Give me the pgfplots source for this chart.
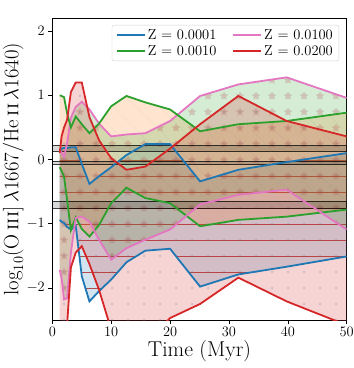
\documentclass[border=0pt]{standalone}
\usepackage{pgfplots}
\pgfplotsset{compat=1.18}
\usepgfplotslibrary{fillbetween}
\usetikzlibrary{patterns.meta}
\usepackage{pgfplotstable}

\definecolor{tabblue}{HTML}{1F77B4}
\definecolor{taborange}{HTML}{FF7F0E}
\definecolor{tabgreen}{HTML}{2CA02C}
\definecolor{tabred}{HTML}{D62728}
\definecolor{tabpink}{HTML}{E377C2}

% Z = 0.0001
\pgfplotstableread{
t     up     lo
1.26  0.12  -0.94
1.58  0.17  -0.97
2.00  0.18  -0.99
2.51  0.18  -1.05
3.16  0.19  -1.09
3.98  0.19  -1.03
5.01 -0.07  -1.82
6.31 -0.38  -2.21
7.94 -0.26  -2.05
10.0 -0.12  -1.87
12.6  0.07  -1.60
15.8  0.24  -1.42
20.0  0.24  -1.39
25.1 -0.34  -1.98
31.6 -0.16  -1.79
39.8 -0.04  -1.67
50.0  0.10  -1.51
}\zA
% Z = 0.0010
\pgfplotstableread{
t     up     lo
1.26  1.00  -0.12
1.58  0.99  -0.18
2.00  0.97  -0.27
2.51  0.72  -0.63
3.16  0.50  -1.10
3.98  0.67  -0.90
5.01  0.55  -1.08
6.31  0.41  -1.20
7.94  0.56  -1.02
10.0  0.83  -0.68
12.6  0.99  -0.44
15.8  0.89  -0.60
20.0  0.78  -0.68
25.1  0.44  -1.04
31.6  0.55  -0.94
39.8  0.60  -0.89
50.0  0.73  -0.78
}\zB
% Z = 0.0100
\pgfplotstableread{
t     up     lo
1.26  0.16  -1.72
1.58  0.10  -1.85
2.00  0.04  -2.18
2.51  0.25  -2.16
3.16  0.65  -1.45
3.98  0.82  -0.91
5.01  0.90  -0.89
6.31  0.78  -0.97
7.94  0.56  -1.25
10.0  0.36  -1.56
12.6  0.39  -1.38
15.8  0.41  -1.25
20.0  0.60  -1.09
25.1  0.99  -0.70
31.6  1.17  -0.55
39.8  1.28  -0.47
50.0  0.96  -1.09
}\zC
% Z = 0.0200
\pgfplotstableread{
t     up     lo
1.26  0.10  -5.00
1.58  0.36  -4.50
2.00  0.50  -4.00
2.51  0.62  -2.58
3.16  1.05  -1.68
3.98  1.20  -1.45
5.01  1.20  -1.35
6.31  0.66  -1.63
7.94  0.30  -2.03
10.0  0.02  -2.65
12.6 -0.16  -2.95
15.8 -0.11  -2.85
20.0  0.17  -2.47
25.1  0.55  -2.25
31.6  0.99  -1.84
39.8  0.60  -2.21
50.0  0.36  -2.58
}\zD

\begin{document}
\begin{tikzpicture}
\begin{axis}[
  scale only axis,
  width=294.4pt, height=301.7pt,
  xmin=0, xmax=50, ymin=-2.5, ymax=2.2,
  xtick={0,10,20,30,40,50},
  ytick={-2,-1,0,1,2},
  tick align=outside,
  xtick pos=bottom, ytick pos=left,
  major tick length=4pt,
  tick style={black, line width=0.6pt},
  axis line style={line width=0.8pt},
  tick label style={font=\fontsize{13.5}{15}\selectfont},
  xlabel={Time (Myr)},
  ylabel={$\log_{10}(\mathrm{O}\,\mbox{\textsc{iii}]}\,\lambda1667/\mathrm{He}\,\mbox{\textsc{ii}}\,\lambda1640)$},
  xlabel style={font=\fontsize{21.5}{24}\selectfont, yshift=3pt},
  ylabel style={font=\fontsize{20.5}{23}\selectfont, yshift=-4pt},
  legend columns=2,
  legend cell align=left,
  legend style={at={(axis description cs:0.974,0.978)}, anchor=north east,
    font=\fontsize{14.5}{16}\selectfont, draw=gray!35, rounded corners=2pt,
    fill=white, fill opacity=0.85, text opacity=1,
    /tikz/every even column/.append style={column sep=14pt},
    row sep=1pt, inner xsep=4pt, inner ysep=2pt},
  legend image code/.code={\draw[#1, line width=1.8pt] (0pt,0pt) -- (28pt,0pt);},
]
% invisible boundary paths
\addplot[draw=none, name path=au, forget plot] table[x=t,y=up]{\zA};
\addplot[draw=none, name path=al, forget plot] table[x=t,y=lo]{\zA};
\addplot[draw=none, name path=bu, forget plot] table[x=t,y=up]{\zB};
\addplot[draw=none, name path=bl, forget plot] table[x=t,y=lo]{\zB};
\addplot[draw=none, name path=cu, forget plot] table[x=t,y=up]{\zC};
\addplot[draw=none, name path=cl, forget plot] table[x=t,y=lo]{\zC};
\addplot[draw=none, name path=du, forget plot] table[x=t,y=up]{\zD};
\addplot[draw=none, name path=dl, forget plot] table[x=t,y=lo]{\zD};

% fills
\addplot[fill=tabblue, fill opacity=0.2, draw=none, forget plot] fill between[of=au and al];
\addplot[pattern={Lines[angle=0,distance=16pt,line width=0.5pt]}, pattern color=tabred!60!gray, fill opacity=0.08, draw=none, forget plot] fill between[of=au and al];

\addplot[fill=taborange, fill opacity=0.2, draw=none, forget plot] fill between[of=bu and bl];
\addplot[pattern={Lines[angle=-45,distance=17pt,line width=0.5pt]}, pattern color=tabblue!40!gray, fill opacity=0.18, draw=none, forget plot] fill between[of=bu and bl];

\addplot[fill=tabgreen, fill opacity=0.2, draw=none, forget plot] fill between[of=cu and cl];
\addplot[pattern={Stars[distance=16pt,radius=4.5pt,points=5]}, pattern color=tabred!60!gray, fill opacity=0.25, draw=none, forget plot] fill between[of=cu and cl];

\addplot[fill=tabred, fill opacity=0.2, draw=none, forget plot] fill between[of=du and dl];
\addplot[pattern={Dots[distance=16pt,radius=1.5pt]}, pattern color=tabblue!40!gray, fill opacity=0.25, draw=none, forget plot] fill between[of=du and dl];

% grey horizontal bands
\addplot[fill=black, fill opacity=0.15, draw=black, draw opacity=0.75, line width=0.6pt, forget plot] coordinates {(0,0.13) (50,0.13) (50,0.22) (0,0.22) (0,0.13)};
\addplot[fill=black, fill opacity=0.15, draw=black, draw opacity=0.75, line width=0.6pt, forget plot] coordinates {(0,-0.078) (50,-0.078) (50,-0.026) (0,-0.026) (0,-0.078)};
\addplot[fill=black, fill opacity=0.15, draw=black, draw opacity=0.75, line width=0.6pt, forget plot] coordinates {(0,-0.755) (50,-0.755) (50,-0.65) (0,-0.65) (0,-0.755)};

% lines
\addplot[tabblue, line width=1.8pt] table[x=t,y=up]{\zA};
\addlegendentry{Z = 0.0001}
\addplot[tabpink, line width=1.8pt] table[x=t,y=up]{\zC};
\addlegendentry{Z = 0.0100}
\addplot[tabgreen, line width=1.8pt] table[x=t,y=up]{\zB};
\addlegendentry{Z = 0.0010}
\addplot[tabred, line width=1.8pt] table[x=t,y=up]{\zD};
\addlegendentry{Z = 0.0200}

\addplot[tabblue, line width=1.8pt, forget plot] table[x=t,y=lo]{\zA};
\addplot[tabgreen, line width=1.8pt, forget plot] table[x=t,y=lo]{\zB};
\addplot[tabpink, line width=1.8pt, forget plot] table[x=t,y=lo]{\zC};
\addplot[tabred, line width=1.8pt, forget plot] table[x=t,y=lo]{\zD};
\end{axis}
\pgfresetboundingbox
\path[use as bounding box] ([xshift=-52.3pt,yshift=-48pt]current axis.south west) rectangle ([xshift=7.3pt,yshift=18.3pt]current axis.north east);
\end{tikzpicture}
\end{document}
